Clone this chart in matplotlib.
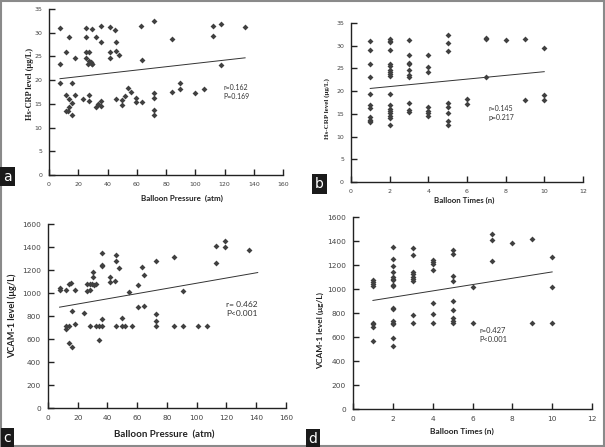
import numpy as np
import matplotlib
matplotlib.use('Agg')
import matplotlib.pyplot as plt
from matplotlib.patches import Rectangle

# panel a: Hs-CRP vs balloon pressure
press_a = [7.5, 7.5, 7.5, 11.7, 13.7, 11.7, 13.7, 11.7, 13.3, 13.7, 15.5, 15.5, 15.5, 17.6, 17.6,
           23.5, 25.6, 25.6, 25.6, 27.4, 25.6, 26.5, 27.4, 28.8, 29.3, 29.7, 29.7, 27.4, 27.4,
           31.8, 31.8, 33.8, 35.7, 35.7, 35.7, 35.7, 41.6, 41.6, 41.6, 44.8, 45.7, 45.7, 45.7,
           47.8, 49.8, 49.8, 51.7, 53.7, 55.8, 59.7, 59.7, 62.9, 63.8, 63.8, 71.8, 71.8, 71.8,
           71.8, 71.8, 83.9, 83.9, 89.8, 89.8, 99.9, 105.8, 111.8, 111.8, 117.7, 117.7, 133.9]
crp_a = [31.0, 23.3, 19.5, 26.0, 29.1, 16.9, 16.1, 13.4, 13.4, 14.3, 19.5, 15.1, 12.6, 24.7, 16.9,
         16.0, 31.0, 29.0, 26.0, 25.9, 24.7, 23.5, 24.0, 23.9, 23.5, 23.3, 30.7, 16.8, 15.7,
         29.0, 14.4, 15.0, 31.5, 28.0, 15.6, 14.5, 31.3, 26.0, 24.7, 30.5, 28.0, 26.2, 16.0,
         25.3, 14.7, 15.8, 16.7, 18.3, 17.4, 16.3, 15.4, 31.5, 24.3, 15.4, 32.4, 17.3, 16.3,
         13.6, 12.6, 28.7, 17.4, 19.3, 18.1, 17.2, 18.1, 31.5, 29.4, 31.8, 23.2, 31.3]
fit_a = [0.0348, 20.04]
fit_range_a = [7.5, 134]

# panel b: Hs-CRP vs balloon times
times_b = [1] * 11 + [2] * 18 + [3] * 10 + [4] * 7 + [5] * 8 + [6] * 2 + [7] * 3 + [8] + [9] * 2 + [10] * 3
crp_b = [31.0, 29.0, 26.0, 23.2, 19.4, 16.9, 16.2, 14.3, 13.7, 13.4, 13.2,
         31.5, 31.1, 30.8, 29.0, 26.0, 25.6, 24.7, 24.3, 23.8, 23.4, 19.4, 16.9, 16.0, 15.6, 15.1, 14.6, 14.1, 12.5,
         31.2, 28.0, 26.3, 26.0, 24.6, 23.5, 23.2, 17.3, 15.9, 15.5,
         27.9, 25.3, 24.3, 16.5, 15.7, 15.1, 14.6,
         32.4, 30.6, 28.8, 17.4, 16.5, 15.1, 13.5, 12.5,
         18.2, 17.2,
         31.7, 31.4, 23.2,
         31.2,
         31.5, 18.1,
         29.5, 19.2, 18.1]
fit_b = [0.41, 20.19]
fit_range_b = [1, 10]

# panel c: VCAM-1 vs balloon pressure
press_c = [7.8, 7.8, 12.1, 13.9, 15.7, 16.4, 18.2, 12.1, 12.1, 14.3, 13.9, 16.1, 18.2, 24.2, 26.2,
           26.2, 28.0, 28.5, 29.8, 30.3, 30.3, 31.1, 28.0, 32.3, 34.3, 34.3, 36.1, 36.1, 36.1,
           36.1, 36.1, 32.3, 41.9, 41.9, 45.0, 45.9, 45.9, 48.0, 45.9, 50.0, 50.0, 52.0, 54.5,
           56.7, 60.3, 60.3, 63.4, 64.5, 64.5, 72.4, 72.4, 72.4, 72.4, 84.7, 84.7, 90.8, 90.8,
           101.1, 107.1, 112.9, 112.9, 119.0, 119.0, 135.1]
vcam_c = [1047, 1030, 1024, 1076, 1091, 842, 1027, 686, 715, 715, 564, 527, 729, 830, 1021,
          1076, 1076, 1027, 1076, 1186, 1143, 1068, 715, 715, 715, 593, 715, 778, 1345,
          1244, 1232, 1076, 1137, 1100, 1105, 1333, 1279, 1215, 715, 715, 787, 715, 1007,
          715, 1068, 877, 1227, 1154, 888, 1282, 819, 761, 715, 1317, 715, 1019, 715,
          715, 715, 1412, 1264, 1453, 1401, 1377]
fit_c = [2.26, 859.4]
fit_range_c = [7.8, 141]

# panel d: VCAM-1 vs balloon times
times_d = [1] * 8 + [2] * 16 + [3] * 9 + [4] * 7 + [5] * 9 + [6] * 2 + [7] * 3 + [8] + [9] * 2 + [10] * 3
vcam_d = [1079, 1057, 1038, 1027, 719, 706, 686, 564,
          1350, 1248, 1195, 1143, 1101, 1087, 1071, 1035, 1024, 841, 830, 730, 719, 708, 589, 526,
          1339, 1287, 1140, 1123, 1101, 1085, 1068, 783, 719,
          1240, 1226, 1212, 1162, 883, 791, 719,
          1325, 1290, 1112, 1068, 896, 825, 761, 733, 714,
          1013, 719,
          1461, 1411, 1234,
          1384,
          1420, 719,
          1267, 1018, 719]
fit_d = [26.4, 878.5]
fit_range_d = [1, 10]

fig = plt.figure(figsize=(6.05, 4.47), dpi=100)
fig.patches.append(Rectangle((0.002, 0.002), 0.996, 0.995, transform=fig.transFigure,
                             fill=False, edgecolor='#8a8a8a', linewidth=1.5))

dot = '#404040'
lab_font = 'Lato'


def panel(rect, x, y, fit, fit_range, xlim, xstep, ylim, ystep, tick_size,
          xlabel, xl_size, xl_pos, ylabel, yl_size, yl_family, yl_pos,
          note, note_xy, note_size):
    ax = fig.add_axes(rect)
    ax.scatter(x, y, marker='D', s=9, color=dot, linewidths=0, zorder=3)
    fx = np.array(fit_range)
    ax.plot(fx, fit[0] * fx + fit[1], color='#333333', linewidth=0.7)
    ax.set_xlim(xlim)
    ax.set_ylim(ylim)
    ax.set_xticks(np.arange(xlim[0], xlim[1] + xstep / 2, xstep))
    ax.set_yticks(np.arange(ylim[0], ylim[1] + ystep / 2, ystep))
    for s in ['top', 'right']:
        ax.spines[s].set_visible(False)
    for s in ['left', 'bottom']:
        ax.spines[s].set_color('#222222')
        ax.spines[s].set_linewidth(1.0)
    ax.tick_params(direction='in', length=4, width=1.0, color='#222222',
                   labelsize=tick_size, labelcolor='#444444', pad=5)
    ax.set_xlabel(xlabel, fontsize=xl_size, fontweight='bold', family=lab_font, color='#222222')
    ax.set_ylabel(ylabel, fontsize=yl_size, fontweight='bold', family=yl_family, color='#222222')
    ax.xaxis.set_label_coords(*xl_pos)
    ax.yaxis.set_label_coords(*yl_pos)
    ax.xaxis.label.set_va('center')
    ax.yaxis.label.set_va('center')
    ax.text(note_xy[0], note_xy[1], note, fontsize=note_size, family=lab_font,
            color='#333333', va='top', linespacing=1.3)
    return ax


panel([0.081, 0.6085, 0.387, 0.3714], press_a, crp_a, fit_a, fit_range_a,
      (0, 160), 20, (0, 35), 5, 4.5,
      'Balloon Pressure  (atm)', 5.8, (0.568, -0.139),
      'Hs-CRP level (μg/L)', 6, 'Liberation Serif', (-0.081, 0.55),
      'r=0.162\nP=0.169', (119, 19.2), 5)
panel([0.580, 0.5928, 0.3835, 0.3557], times_b, crp_b, fit_b, fit_range_b,
      (0, 12), 2, (0, 35), 5, 4.5,
      'Balloon Times (n)', 5.7, (0.49, -0.113),
      'Hs-CRP level (μg/L)', 5, 'Liberation Serif', (-0.103, 0.465),
      'r=0.145\np=0.217', (7.1, 17.0), 5)
panel([0.0793, 0.0872, 0.3934, 0.4116], press_c, vcam_c, fit_c, fit_range_c,
      (0, 160), 20, (0, 1600), 200, 5.3,
      'Balloon Pressure  (atm)', 7, (0.49, -0.147),
      'VCAM-1 level (μg/L)', 6.6, lab_font, (-0.151, 0.5),
      'r= 0.462\nP<0.001', (120, 932), 6)
panel([0.5835, 0.085, 0.395, 0.4295], times_d, vcam_d, fit_d, fit_range_d,
      (0, 12), 2, (0, 1600), 200, 5.3,
      'Balloon Times (n)', 6, (0.456, -0.115),
      'VCAM-1 level (μg/L)', 6, lab_font, (-0.138, 0.406),
      'r=0.427\nP<0.001', (6.36, 681), 5.4)

# panel letters
for lx, ly, letter in [(0.0124, 0.605, 'a'), (0.528, 0.588, 'b'), (0.0124, 0.020, 'c'), (0.517, 0.018, 'd')]:
    fig.text(lx, ly, letter, fontsize=10, color='white', family='DejaVu Sans', va='center', ha='center',
             bbox=dict(boxstyle='square,pad=0.2', facecolor='#1a1a1a', edgecolor='none'))

fig.savefig('out.png', dpi=100)
